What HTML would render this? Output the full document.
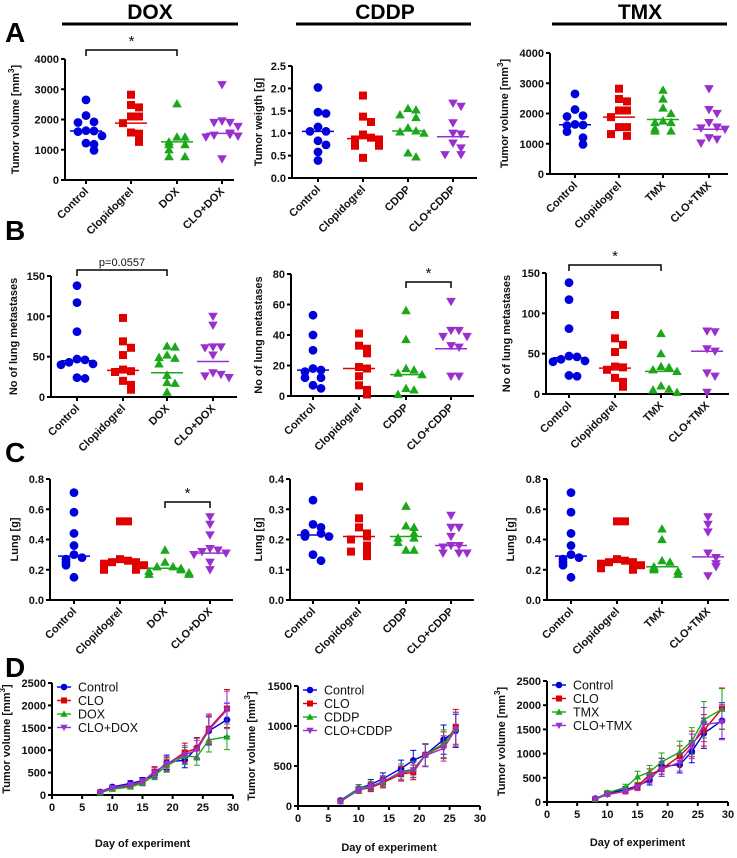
<!DOCTYPE html>
<html><head><meta charset="utf-8">
<style>
html,body{margin:0;padding:0;background:#fff;}
svg{display:block;font-family:"Liberation Sans",Arial,sans-serif;}
.t{font-weight:bold;font-size:11px;fill:#111;}
</style></head>
<body>
<svg id="fig" width="737" height="858" viewBox="0 0 737 858" xmlns="http://www.w3.org/2000/svg">
<text x="5" y="42" font-size="28" font-weight="bold">A</text>
<text x="5" y="240" font-size="28" font-weight="bold">B</text>
<text x="5" y="462" font-size="28" font-weight="bold">C</text>
<text x="5" y="677" font-size="28" font-weight="bold">D</text>
<text x="150" y="19" font-size="21" font-weight="bold" text-anchor="middle">DOX</text>
<line x1="62" y1="24" x2="238" y2="24" stroke="#000" stroke-width="3"/>
<text x="385" y="19" font-size="21" font-weight="bold" text-anchor="middle">CDDP</text>
<line x1="296" y1="24" x2="471" y2="24" stroke="#000" stroke-width="3"/>
<text x="640" y="19" font-size="21" font-weight="bold" text-anchor="middle">TMX</text>
<line x1="552" y1="24" x2="727" y2="24" stroke="#000" stroke-width="3"/>
</svg>
<script>
// ---------- scatter data ----------
const catsDOX=["Control","Clopidogrel","DOX","CLO+DOX"];
const catsCDDP=["Control","Clopidogrel","CDDP","CLO+CDDP"];
const catsTMX=["Control","Clopidogrel","TMX","CLO+TMX"];
const a1Vals=[[2650,2130,1920,1900,1630,1620,1600,1460,1220,1180,980],[2820,2480,2400,2100,2100,1880,1570,1530,1320,1260],[2520,1420,1420,1260,1170,1170,1000,770,770],[3150,1950,1900,1900,1770,1550,1500,1480,1450,1420,700]];
const a1Med=[1620,1880,1260,1540];
const a2Vals=[[2.02,1.47,1.44,1.14,1.04,1.04,0.83,0.74,0.58,0.39],[1.84,1.37,1.25,0.97,0.9,0.86,0.86,0.72,0.72,0.45],[1.55,1.52,1.41,1.35,1.12,1.05,1.03,1.0,0.56,0.47],[1.67,1.6,1.23,1.0,0.98,0.78,0.67,0.52,0.52]];
const a2Med=[1.04,0.88,1.05,0.92];
const a3Vals=[[2650,2130,1930,1900,1640,1620,1600,1400,1200,980],[2820,2480,2400,2100,2100,1880,1550,1550,1320,1260],[2770,2480,2180,2000,1750,1700,1700,1500,1420,1420],[2820,2130,2000,1700,1550,1520,1480,1200,1150,1020]];
const a3Med=[1630,1880,1800,1480];
const b1Vals=[[138,117,81,47,46,43,41,40,24,23],[98,69,61,52,34,32,31,20,15,9],[63,62,52,48,49,41,27,18,17,6],[100,89,62,62,61,52,30,28,26,24]];
const b1Med=[45,33,30,44];
const b2Vals=[[53,40,30,18,17,16,12,12,7,5],[41,33,31,28,19,18,13,7,4,1],[56,37,18,17,15,14,5,4,1],[62,43,43,39,39,33,32,13,13]];
const b2Med=[17,18,14,31];
const b3Vals=[[138,117,81,47,46,43,41,40,23,22],[98,69,61,52,34,33,30,20,15,9],[75,50,34,33,30,28,10,6,5,2],[78,77,56,53,26,22,2]];
const b3Med=[45,32,28,53];
const c1Vals=[[0.71,0.58,0.44,0.36,0.30,0.28,0.27,0.25,0.23,0.15],[0.52,0.52,0.27,0.26,0.25,0.25,0.24,0.23,0.21,0.20,0.20],[0.33,0.25,0.22,0.22,0.21,0.20,0.19,0.18,0.17,0.17],[0.55,0.50,0.43,0.34,0.33,0.32,0.31,0.30,0.25,0.20]];
const c1Med=[0.29,0.25,0.21,0.31];
const c2Vals=[[0.33,0.25,0.24,0.22,0.22,0.21,0.21,0.15,0.13],[0.375,0.27,0.24,0.22,0.21,0.2,0.18,0.17,0.16,0.145],[0.31,0.245,0.24,0.22,0.205,0.205,0.19,0.165,0.165],[0.28,0.24,0.24,0.21,0.18,0.18,0.175,0.155,0.155,0.155]];
const c2Med=[0.215,0.21,0.21,0.18];
const c3Vals=[[0.71,0.58,0.44,0.36,0.30,0.28,0.27,0.25,0.23,0.15],[0.52,0.52,0.27,0.26,0.25,0.25,0.24,0.23,0.21,0.20],[0.47,0.40,0.26,0.25,0.22,0.21,0.20,0.19,0.17],[0.55,0.50,0.45,0.31,0.28,0.24,0.22,0.16]];
const c3Med=[0.29,0.25,0.22,0.285];
const ticks4000=["0","1000","2000","3000","4000"];
const ticks25=["0.0","0.5","1.0","1.5","2.0","2.5"];
const ticks150=["0","50","100","150"];
const ticks80=["0","20","40","60","80"];
const ticks08=["0.0","0.2","0.4","0.6","0.8"];
const ticks04=["0.0","0.1","0.2","0.3","0.4"];
// ---------- line data ----------
const d1Days=[8,10,13,15,17,19,22,24,26,29];
const d1Ctrl=[70,180,260,320,460,730,780,1050,1430,1680];
const d1Clo=[60,150,200,300,520,680,950,1040,1480,1930];
const d1Drug=[50,130,180,260,440,650,870,850,1230,1300];
const d1Comb=[60,160,230,300,500,700,900,1000,1450,1900];
const d2Days=[7,10,12,14,17,19,21,24,26];
const d2Ctrl=[70,220,270,340,470,570,640,830,940];
const d2Clo=[60,200,230,290,400,420,640,760,990];
const d2Drug=[60,220,250,300,430,460,640,780,960];
const d2Comb=[55,200,240,310,410,450,630,720,960];
const d3Days=[8,10,13,15,17,19,22,24,26,29];
const d3Ctrl=[70,180,260,330,450,740,770,1040,1420,1680];
const d3Clo=[60,170,220,330,560,680,950,1200,1480,1930];
const d3Drug=[60,190,300,520,620,830,1030,1260,1700,1920];
const d3Comb=[60,150,220,300,500,680,820,1150,1600,1650];
const dayTicks=["0","5","10","15","20","25","30"];
const ticks2500=["0","500","1000","1500","2000","2500"];
const ticks1500=["0","500","1000","1500"];

const NS="http://www.w3.org/2000/svg";
const svg=document.getElementById("fig");
const COLORS=["#0000dd","#e00000","#1aa81a","#9a2fd0"];
function mk(tag,attrs,parent){const e=document.createElementNS(NS,tag);for(const k in attrs)e.setAttribute(k,attrs[k]);(parent||svg).appendChild(e);return e;}
function marker(g,k,x,y,s){
  let e;
  if(k===0){e=mk("circle",{cx:x,cy:y,r:s*0.55,fill:COLORS[0]},g);}
  else if(k===1){e=mk("rect",{x:x-s/2,y:y-s/2,width:s,height:s,fill:COLORS[1]},g);}
  else if(k===2){e=mk("polygon",{points:`${x},${y-s*0.6} ${x-s*0.6},${y+s*0.45} ${x+s*0.6},${y+s*0.45}`,fill:COLORS[2]},g);}
  else {e=mk("polygon",{points:`${x},${y+s*0.6} ${x-s*0.6},${y-s*0.45} ${x+s*0.6},${y-s*0.45}`,fill:COLORS[3]},g);}
  return e;
}
function yaxis(g,x0,yTop,yBot,max,labels,ytitle,tx,name){
  mk("line",{x1:x0,y1:yTop,x2:x0,y2:yBot,stroke:"#000","stroke-width":2},g);
  labels.forEach((l,i)=>{const y=yBot-(yBot-yTop)*i/(labels.length-1);
    mk("line",{x1:x0-4,y1:y,x2:x0,y2:y,stroke:"#000","stroke-width":2},g);
    const t=mk("text",{x:x0-6,y:y+4,"text-anchor":"end",class:"t"},g);t.textContent=l;
    
    });
  const yc=(yTop+yBot)/2;
  const tt=mk("text",{x:tx,y:yc,transform:`rotate(-90 ${tx} ${yc})`,"text-anchor":"middle",class:"t","font-size":"12"},g);
  tt.innerHTML=ytitle;
  
  
}
function scatter(p){
  const g=mk("g",{});
  
  
  const ys=v=>p.yBot-(p.yBot-p.yTop)*v/p.max;
  yaxis(g,p.x0,p.yTop,p.yBot,p.max,p.ticks,p.ytitle,p.tx,p.name);
  mk("line",{x1:p.x0,y1:p.yBot,x2:p.xEnd,y2:p.yBot,stroke:"#000","stroke-width":2},g);
  p.cats.forEach((c,i)=>{
    const cx=p.cx[i];
    mk("line",{x1:cx,y1:p.yBot,x2:cx,y2:p.yBot+4,stroke:"#000","stroke-width":2},g);
    const t=mk("text",{x:cx+3,y:p.yBot+12,"text-anchor":"end",class:"t",transform:`rotate(-45 ${cx+3} ${p.yBot+12})`},g);
    t.textContent=c;
    
    
    const placed=[];
    p.vals[i].forEach(v=>{
      const y=ys(v);
      const n=placed.filter(q=>Math.abs(q-y)<7).length;
      placed.push(y);
      const off=n===0?0:(n%2?1:-1)*Math.ceil(n/2)*8;
      const m=marker(g,i,cx+off,y,8);
      
      
    });
    const ml=mk("line",{x1:cx-16,y1:ys(p.med[i]),x2:cx+16,y2:ys(p.med[i]),stroke:COLORS[i],"stroke-width":1.5},g);
    
    
  });
  if(p.br){const [a,b,y,txt]=p.br;
    const br=mk("path",{d:`M${p.cx[a]},${y+6}V${y}H${p.cx[b]}V${y+6}`,fill:"none",stroke:"#000","stroke-width":1.5},g);
    
    
    const t=mk("text",{x:(p.cx[a]+p.cx[b])/2,y:y-4,"text-anchor":"middle","font-size":txt==="*"?"15":"11",fill:"#111"},g);
    t.textContent=txt;
    
    }
}
const vol='Tumor volume [mm<tspan dy="-5" font-size="8">3</tspan><tspan dy="5">]</tspan>';
const mets='No of lung metastases';
scatter({name:"panel-a-dox",cats:catsDOX,vals:a1Vals,med:a1Med,x0:65,xEnd:234,yTop:59,yBot:180,max:4000,ticks:ticks4000,cx:[86,131,177,222],ytitle:vol,tx:19,br:[0,2,50,"*"]});
scatter({name:"panel-a-cddp",cats:catsCDDP,vals:a2Vals,med:a2Med,x0:292,xEnd:477,yTop:66,yBot:178,max:2.5,ticks:ticks25,cx:[318,363,408,453],ytitle:"Tumor weigth [g]",tx:262});
scatter({name:"panel-a-tmx",cats:catsTMX,vals:a3Vals,med:a3Med,x0:550,xEnd:728,yTop:53,yBot:174,max:4000,ticks:ticks4000,cx:[575,619,663,709],ytitle:vol,tx:508});
scatter({name:"panel-b-dox",cats:catsDOX,vals:b1Vals,med:b1Med,x0:51,xEnd:237,yTop:276,yBot:397,max:150,ticks:ticks150,cx:[77,123,167,213],ytitle:mets,tx:17,br:[0,2,270,"p=0.0557"]});
scatter({name:"panel-b-cddp",cats:catsCDDP,vals:b2Vals,med:b2Med,x0:291,xEnd:474,yTop:274,yBot:396,max:80,ticks:ticks80,cx:[313,359,406,451],ytitle:mets,tx:262,br:[2,3,282,"*"]});
scatter({name:"panel-b-tmx",cats:catsTMX,vals:b3Vals,med:b3Med,x0:546,xEnd:729,yTop:273,yBot:394,max:150,ticks:ticks150,cx:[569,615,661,707],ytitle:mets,tx:510,br:[0,2,265,"*"]});
scatter({name:"panel-c-dox",cats:catsDOX,vals:c1Vals,med:c1Med,x0:50,xEnd:233,yTop:479,yBot:600,max:0.8,ticks:ticks08,cx:[74,120,165,210],ytitle:"Lung [g]",tx:18,br:[2,3,502,"*"]});
scatter({name:"panel-c-cddp",cats:catsCDDP,vals:c2Vals,med:c2Med,x0:290,xEnd:474,yTop:479,yBot:600,max:0.4,ticks:ticks04,cx:[313,359,406,451],ytitle:"Lung [g]",tx:262});
scatter({name:"panel-c-tmx",cats:catsTMX,vals:c3Vals,med:c3Med,x0:547,xEnd:729,yTop:479,yBot:600,max:0.8,ticks:ticks08,cx:[571,617,662,708],ytitle:"Lung [g]",tx:514});

function linechart(p){
  const g=mk("g",{});
  
  
  const xs=d=>p.x0+(p.x30-p.x0)*d/30;
  const ys=v=>p.yBot-(p.yBot-p.yTop)*v/p.max;
  yaxis(g,p.x0,p.yTop,p.yBot,p.max,p.ticks,vol,p.tx,p.name);
  mk("line",{x1:p.x0,y1:p.yBot,x2:p.x30,y2:p.yBot,stroke:"#000","stroke-width":2},g);
  dayTicks.forEach(l=>{const x=xs(+l);
    mk("line",{x1:x,y1:p.yBot,x2:x,y2:p.yBot+4,stroke:"#000","stroke-width":2},g);
    const t=mk("text",{x:x,y:p.yBot+16,"text-anchor":"middle",class:"t","font-size":"12"},g);t.textContent=l;
    
    });
  const xt=mk("text",{x:(p.x0+p.x30)/2,y:p.xtY,"text-anchor":"middle",class:"t","font-size":"12"},g);
  xt.textContent="Day of experiment";
  
  
  p.series.forEach((s,k)=>{
    const c=COLORS[k];
    const pts=s.map((v,i)=>xs(p.days[i])+","+ys(v)).join(" ");
    s.forEach((v,i)=>{const x=xs(p.days[i]);const e=Math.max(v*0.22,25);
      mk("path",{d:`M${x},${ys(v-e)}V${ys(v+e)}M${x-3},${ys(v+e)}H${x+3}M${x-3},${ys(v-e)}H${x+3}`,stroke:c,"stroke-width":1,fill:"none"},g);});
    const pl=mk("polyline",{points:pts,fill:"none",stroke:c,"stroke-width":1.4},g);
    
    
    s.forEach((v,i)=>{const m=marker(g,k,xs(p.days[i]),ys(v),6);
      
      });
    const ly=p.yTop+4+k*13.5;
    const lg=mk("g",{},g);
    
    
    mk("line",{x1:p.x0+5,y1:ly,x2:p.x0+19,y2:ly,stroke:c,"stroke-width":1.4},lg);
    marker(lg,k,p.x0+12,ly,6);
    const t=mk("text",{x:p.x0+26,y:ly+4.5,"font-size":"12.5",fill:"#111"},lg);
    t.textContent=p.legend[k];
  });
}
linechart({name:"panel-d-dox",days:d1Days,series:[d1Ctrl,d1Clo,d1Drug,d1Comb],legend:["Control","CLO","DOX","CLO+DOX"],x0:52,x30:233,yTop:683,yBot:795,max:2500,ticks:ticks2500,tx:10,xtY:847});
linechart({name:"panel-d-cddp",days:d2Days,series:[d2Ctrl,d2Clo,d2Drug,d2Comb],legend:["Control","CLO","CDDP","CLO+CDDP"],x0:298,x30:480,yTop:686,yBot:806,max:1500,ticks:ticks1500,tx:255,xtY:851});
linechart({name:"panel-d-tmx",days:d3Days,series:[d3Ctrl,d3Clo,d3Drug,d3Comb],legend:["Control","CLO","TMX","CLO+TMX"],x0:547,x30:728,yTop:681,yBot:802,max:2500,ticks:ticks2500,tx:505,xtY:846});
</script>
</body></html>
